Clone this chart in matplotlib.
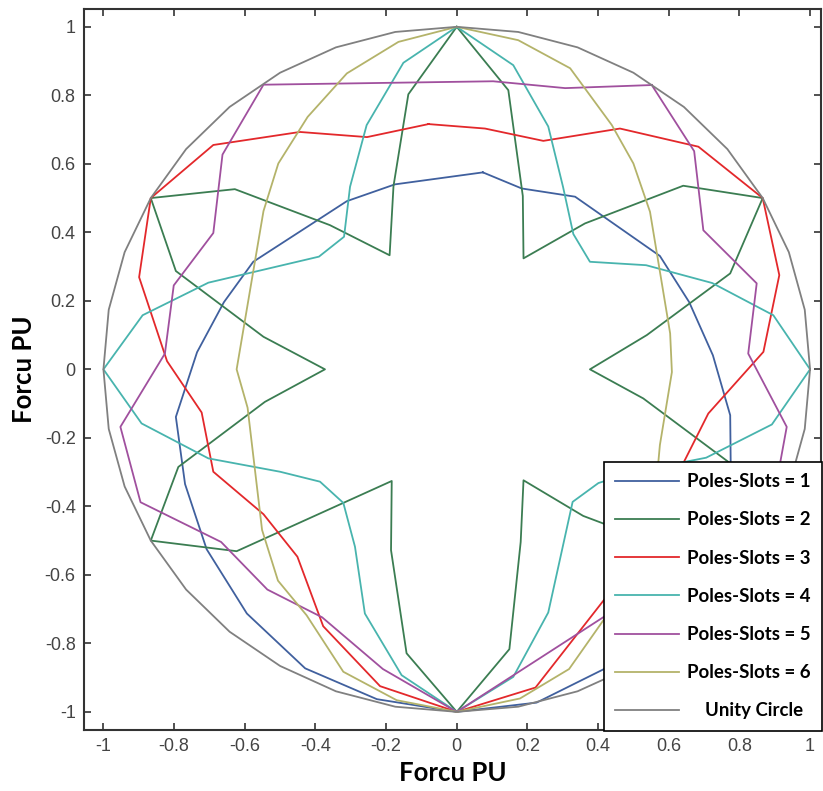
import matplotlib
matplotlib.use("Agg")
import matplotlib.pyplot as plt

# ---- data ----
labels = ["Poles-Slots = 1", "Poles-Slots = 2", "Poles-Slots = 3",
          "Poles-Slots = 4", "Poles-Slots = 5", "Poles-Slots = 6", "    Unity Circle"]

blue_x = [0.074, -0.175, -0.311, -0.576, -0.659, -0.735, -0.795, -0.769, -0.708, -0.594, -0.429, -0.226, 0.0,
          0.226, 0.415, 0.595, 0.708, 0.776, 0.774, 0.725, 0.658, 0.575, 0.335, 0.184, 0.074]
blue_y = [0.575, 0.540, 0.491, 0.314, 0.196, 0.050, -0.139, -0.335, -0.525, -0.713, -0.873, -0.963, -1.0,
          -0.973, -0.876, -0.713, -0.525, -0.335, -0.134, 0.041, 0.196, 0.331, 0.504, 0.528, 0.575]

green_x = [0.0, -0.137, -0.179, -0.190, -0.359, -0.628, -0.866, -0.795, -0.547, -0.373, -0.543, -0.788, -0.866,
           -0.623, -0.184, -0.186, -0.142, 0.0, 0.149, 0.181, 0.189, 0.358, 0.623, 0.866, 0.788, 0.528, 0.377,
           0.538, 0.774, 0.866, 0.641, 0.363, 0.189, 0.187, 0.146, 0.0]
green_y = [1.0, 0.803, 0.535, 0.333, 0.421, 0.526, 0.5, 0.287, 0.095, 0.0, -0.095, -0.285, -0.5,
           -0.531, -0.326, -0.528, -0.829, -1.0, -0.817, -0.504, -0.324, -0.428, -0.531, -0.5, -0.285, -0.085, 0.0,
           0.100, 0.280, 0.5, 0.536, 0.426, 0.324, 0.506, 0.815, 1.0]

red_x = [-0.080, -0.254, -0.444, -0.689, -0.866, -0.899, -0.820, -0.722, -0.689, -0.547, -0.451, -0.378, -0.217,
         0.0, 0.223, 0.448, 0.533, 0.632, 0.712, 0.868, 0.913, 0.866, 0.684, 0.462, 0.245, 0.080, -0.080]
red_y = [0.716, 0.678, 0.693, 0.655, 0.5, 0.269, 0.024, -0.126, -0.299, -0.423, -0.547, -0.750, -0.925,
         -1.0, -0.929, -0.632, -0.440, -0.293, -0.129, 0.051, 0.275, 0.5, 0.650, 0.703, 0.667, 0.703, 0.716]

cyan_x = [0.0, -0.151, -0.255, -0.302, -0.319, -0.390, -0.703, -0.889, -1.0, -0.892, -0.703, -0.500, -0.387,
          -0.321, -0.288, -0.260, -0.156, 0.0, 0.160, 0.259, 0.328, 0.401, 0.499, 0.706, 0.892, 1.0, 0.896,
          0.723, 0.536, 0.377, 0.330, 0.301, 0.259, 0.160, 0.0]
cyan_y = [1.0, 0.895, 0.713, 0.533, 0.387, 0.329, 0.253, 0.158, 0.0, -0.158, -0.260, -0.299, -0.328,
          -0.390, -0.518, -0.713, -0.893, -1.0, -0.898, -0.710, -0.387, -0.332, -0.300, -0.258, -0.161, 0.0, 0.158,
          0.252, 0.304, 0.314, 0.395, 0.532, 0.709, 0.888, 1.0]

magenta_x = [0.552, 0.307, 0.103, -0.547, -0.663, -0.689, -0.801, -0.826, -0.952, -0.895, -0.667, -0.536,
             -0.381, -0.209, 0.0, 0.533, 0.666, 0.895, 0.934, 0.825, 0.849, 0.698, 0.672, 0.552]
magenta_y = [0.830, 0.821, 0.841, 0.831, 0.627, 0.398, 0.245, 0.046, -0.168, -0.388, -0.504, -0.643,
             -0.724, -0.875, -1.0, -0.645, -0.504, -0.388, -0.168, 0.046, 0.251, 0.406, 0.637, 0.830]

olive_x = [0.0, -0.165, -0.311, -0.422, -0.505, -0.547, -0.623, -0.592, -0.551, -0.506, -0.425, -0.321, -0.170,
           0.0, 0.179, 0.318, 0.425, 0.507, 0.553, 0.575, 0.609, 0.604, 0.547, 0.500, 0.439, 0.321, 0.174, 0.0]
olive_y = [1.0, 0.956, 0.864, 0.737, 0.601, 0.462, 0.0, -0.112, -0.469, -0.617, -0.718, -0.883, -0.966,
           -1.0, -0.961, -0.875, -0.718, -0.618, -0.469, -0.221, -0.008, 0.105, 0.460, 0.601, 0.713, 0.879, 0.961, 1.0]

circle_x = [1.0, 0.985, 0.940, 0.866, 0.766, 0.643, 0.5, 0.342, 0.174, 0.0, -0.174, -0.342, -0.5, -0.643,
            -0.766, -0.866, -0.940, -0.985, -1.0, -0.985, -0.940, -0.866, -0.766, -0.643, -0.5, -0.342, -0.174,
            0.0, 0.174, 0.342, 0.5, 0.643, 0.766, 0.866, 0.940, 0.985, 1.0]
circle_y = [0.0, 0.174, 0.342, 0.5, 0.643, 0.766, 0.866, 0.940, 0.985, 1.0, 0.985, 0.940, 0.866, 0.766,
            0.643, 0.5, 0.342, 0.174, 0.0, -0.174, -0.342, -0.5, -0.643, -0.766, -0.866, -0.940, -0.985,
            -1.0, -0.985, -0.940, -0.866, -0.766, -0.643, -0.5, -0.342, -0.174, 0.0]

xticks = [-1, -0.8, -0.6, -0.4, -0.2, 0, 0.2, 0.4, 0.6, 0.8, 1]
yticks = [-1, -0.8, -0.6, -0.4, -0.2, 0, 0.2, 0.4, 0.6, 0.8, 1]
tick_labels = ["-1", "-0.8", "-0.6", "-0.4", "-0.2", "0", "0.2", "0.4", "0.6", "0.8", "1"]

colors = ["#40609e", "#3b7d52", "#e3282b", "#48b4ae", "#a0509e", "#b4b36a", "#808080"]

series = [(blue_x, blue_y), (green_x, green_y), (red_x, red_y), (cyan_x, cyan_y),
          (magenta_x, magenta_y), (olive_x, olive_y), (circle_x, circle_y)]

W, H = 823, 791
fig = plt.figure(figsize=(W / 100, H / 100), dpi=100)
ax = fig.add_axes([84 / W, 1 - 730 / H, (821 - 84) / W, (730 - 9) / H])

for (xs, ys), c, lab in zip(series, colors, labels):
    ax.plot(xs, ys, color=c, lw=1.3, label=lab)

ax.set_xlim(-1.055, 1.031)
ax.set_ylim(-1.053, 1.052)
ax.set_xticks(xticks)
ax.set_xticklabels(tick_labels)
ax.set_yticks(yticks)
ax.set_yticklabels(tick_labels)
ax.tick_params(direction="in", top=True, right=True, length=5, width=1.2, color="#333333",
               labelsize=13, labelcolor="#444444", pad=6)
for t in ax.get_xticklabels() + ax.get_yticklabels():
    t.set_family("Liberation Sans")
for s in ax.spines.values():
    s.set_linewidth(1.5)
    s.set_color("#333333")

ax.set_xlabel("Forcu PU", fontfamily="Lato", fontweight="bold", fontsize=18.5, labelpad=4)
ax.set_ylabel("Forcu PU", fontfamily="Lato", fontweight="bold", fontsize=18.5, labelpad=6)

leg = ax.legend(loc="upper left", bbox_to_anchor=(604 / W, 1 - 462 / H), bbox_transform=fig.transFigure,
                prop={"family": "Lato", "weight": "bold", "size": 13.4}, handlelength=3.45,
                handletextpad=0.4, labelspacing=1.14, borderpad=0.6, frameon=True, fancybox=False,
                framealpha=1, edgecolor="black", borderaxespad=0)
leg.get_frame().set_linewidth(1.2)

fig.savefig("out.png", dpi=100)
